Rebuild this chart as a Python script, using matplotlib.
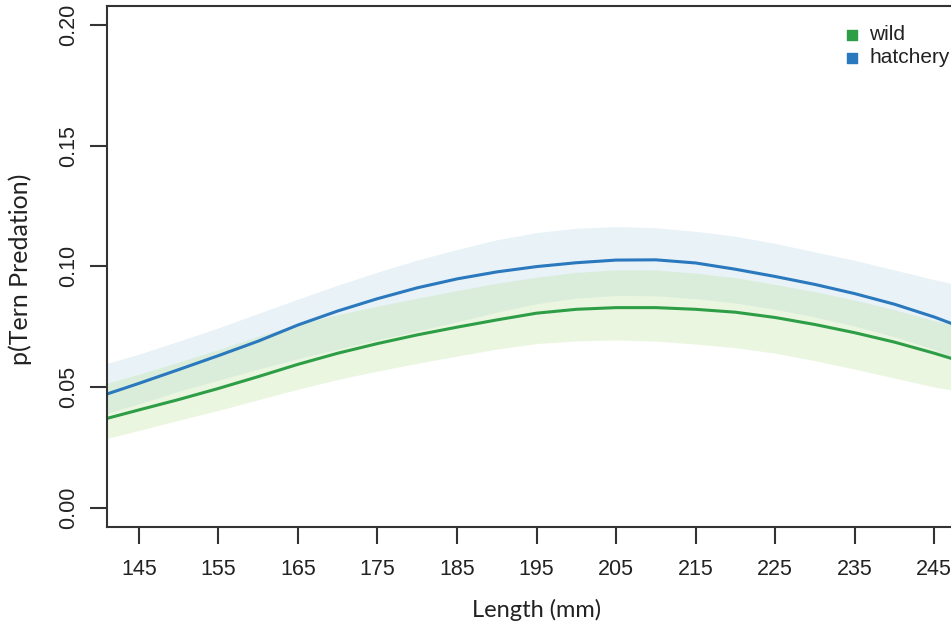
import matplotlib
matplotlib.use("Agg")
import matplotlib.pyplot as plt
import numpy as np

# values
length = [141, 145, 150, 155, 160, 165, 170, 175, 180, 185, 190, 195,
          200, 205, 210, 215, 220, 225, 230, 235, 240, 245, 247.1]

hatch_fit = [0.0471, 0.0515, 0.0572, 0.0630, 0.0690, 0.0757, 0.0815, 0.0866, 0.0911, 0.0948, 0.0977, 0.0999,
             0.1015, 0.1026, 0.1027, 0.1014, 0.0988, 0.0958, 0.0925, 0.0887, 0.0843, 0.0790, 0.0764]
hatch_hi = [0.0598, 0.0636, 0.0690, 0.0745, 0.0805, 0.0864, 0.0922, 0.0976, 0.1026, 0.1070, 0.1110, 0.1140,
            0.1158, 0.1165, 0.1160, 0.1145, 0.1125, 0.1095, 0.1060, 0.1025, 0.0985, 0.0945, 0.0930]
hatch_lo = [0.0391, 0.0430, 0.0482, 0.0528, 0.0574, 0.0617, 0.0657, 0.0695, 0.0732, 0.0770, 0.0810, 0.0845,
            0.0868, 0.0879, 0.0878, 0.0866, 0.0848, 0.0822, 0.0790, 0.0752, 0.0708, 0.0655, 0.0626]

wild_fit = [0.0370, 0.0405, 0.0448, 0.0494, 0.0543, 0.0594, 0.0640, 0.0680, 0.0716, 0.0748, 0.0778, 0.0806,
            0.0822, 0.0829, 0.0829, 0.0822, 0.0810, 0.0788, 0.0759, 0.0725, 0.0686, 0.0640, 0.0619]
wild_hi = [0.0515, 0.0553, 0.0603, 0.0655, 0.0710, 0.0760, 0.0800, 0.0835, 0.0868, 0.0900, 0.0930, 0.0955,
           0.0975, 0.0986, 0.0985, 0.0972, 0.0953, 0.0925, 0.0895, 0.0860, 0.0820, 0.0775, 0.0760]
wild_lo = [0.0287, 0.0320, 0.0362, 0.0403, 0.0447, 0.0491, 0.0531, 0.0566, 0.0598, 0.0628, 0.0657, 0.0680,
           0.0691, 0.0695, 0.0690, 0.0678, 0.0663, 0.0640, 0.0609, 0.0574, 0.0537, 0.0500, 0.0488]

xticks = [145, 155, 165, 175, 185, 195, 205, 215, 225, 235, 245]
yticks = [0.00, 0.05, 0.10, 0.15, 0.20]

green = "#2e9e46"
blue = "#2a78bd"

plt.rcParams['font.family'] = ['Liberation Sans', 'DejaVu Sans']

fig = plt.figure(figsize=(9.51, 6.23), dpi=100)
ax = fig.add_axes([107/951, 96/623, 1 - 107/951, (527 - 5.7)/623])

ax.fill_between(length, hatch_lo, hatch_hi, color="#a6cee3", alpha=0.25, lw=0)
ax.fill_between(length, wild_lo, wild_hi, color="#b2df8a", alpha=0.25, lw=0)
ax.plot(length, hatch_fit, color=blue, lw=2.2)
ax.plot(length, wild_fit, color=green, lw=2.2)

ax.set_xlim(141, 247.1)
ax.set_ylim(-0.008, 0.208)
ax.set_xticks(xticks)
ax.set_xticklabels([str(t) for t in xticks], fontsize=15.5, color="#222222")
ax.set_yticks(yticks)
ax.set_yticklabels(["%.2f" % t for t in yticks], fontsize=15.5, color="#222222",
                   rotation=90, va="center")
ax.tick_params(direction="out", length=12, width=1.5, color="#333333")
ax.tick_params(axis="x", pad=11)
ax.tick_params(axis="y", pad=8)

for s in ["left", "bottom", "top"]:
    ax.spines[s].set_linewidth(1.5)
    ax.spines[s].set_color("#333333")
ax.spines["right"].set_visible(False)

# legend squares
ax.scatter([0.883], [0.944], marker="s", s=45, color=green, transform=ax.transAxes, clip_on=False)
ax.scatter([0.883], [0.900], marker="s", s=45, color=blue, transform=ax.transAxes, clip_on=False)
ax.text(0.903, 0.944, "wild", fontsize=15, va="center", color="#222222", transform=ax.transAxes)
ax.text(0.903, 0.900, "hatchery", fontsize=15, va="center", color="#222222", transform=ax.transAxes)

fig.text(537/951, 1 - 610/623, "Length (mm)", fontsize=17, family=["Lato", "DejaVu Sans"],
         ha="center", va="center", color="#222222")
fig.text(20/951, 1 - 269/623, "p(Tern Predation)", fontsize=18, family=["Lato", "DejaVu Sans"],
         ha="center", va="center", rotation=90, color="#222222")

fig.savefig("out.png", dpi=100)
